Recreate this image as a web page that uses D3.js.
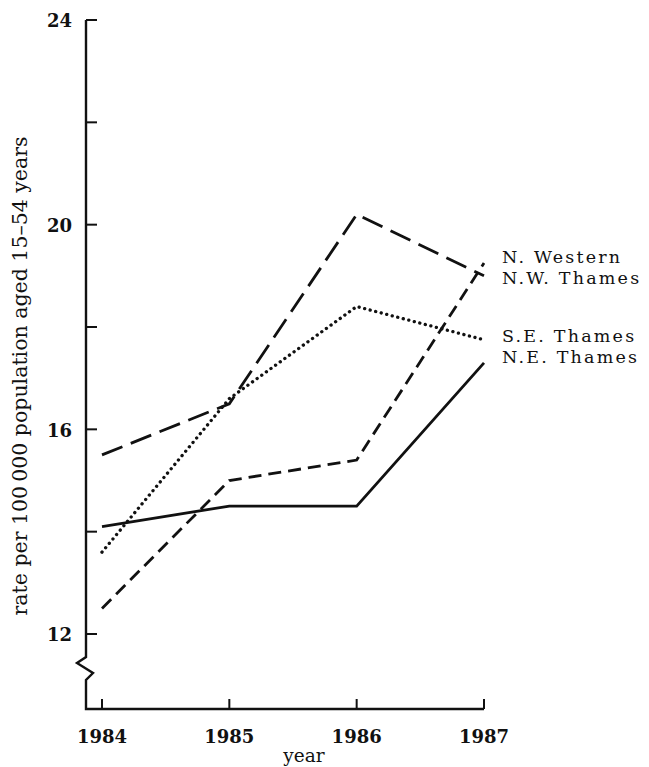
<!DOCTYPE html>
<html>
<head>
<meta charset="utf-8">
<script src="https://cdn.jsdelivr.net/npm/d3@7"></script>
<style>
  body { margin: 0; background: #fff; }
  svg text { font-family: "DejaVu Serif", "Liberation Serif", serif; fill: #111; }
  .tick-label { font-weight: bold; font-size: 18px; }
</style>
</head>
<body>
<svg id="chart" width="649" height="767"></svg>
<script>
const years = [1984, 1985, 1986, 1987];
const yTicks = [12, 14, 16, 18, 20, 22, 24];
const yLabelTicks = [12, 16, 20, 24];

const nWestern = [15.5, 16.5, 20.2, 19.0];
const nwThames = [12.5, 15.0, 15.4, 19.25];
const seThames = [13.6, 16.6, 18.4, 17.75];
const neThames = [14.1, 14.5, 14.5, 17.3];

const seriesNames = ["N. Western", "N.W. Thames", "S.E. Thames", "N.E. Thames"];
const seriesValues = [nWestern, nwThames, seThames, neThames];

const svg = d3.select("#chart");

const axisX = 86, axisBottom = 709;

const x = d3.scaleLinear().domain([1984, 1987]).range([102, 484]);
const y = d3.scaleLinear().domain([12, 24]).range([634, 20]);

const ink = "#111";

// styles for each series
const dashes = ["22,9", "13,7", "0.1,5.6", null];

// y axis with break
const g = svg.append("g");
g.append("path")
  .attr("d", `M${axisX},${y(24)} V657 L77,663 L93,673 L${axisX},680 V${axisBottom} H${x(1987)}`)
  .attr("fill", "none")
  .attr("stroke", ink)
  .attr("stroke-width", 2.4);

g.selectAll(".ytick").data(yTicks).enter().append("line")
  .attr("x1", axisX).attr("x2", axisX + 11)
  .attr("y1", d => y(d)).attr("y2", d => y(d))
  .attr("stroke", ink).attr("stroke-width", 2);

g.selectAll(".ylab").data(yLabelTicks).enter().append("text")
  .attr("class", "tick-label")
  .attr("x", 72).attr("y", d => y(d))
  .attr("dy", "0.4em")
  .attr("text-anchor", "end")
  .text(d => d);

g.selectAll(".xtick").data(years).enter().append("line")
  .attr("x1", d => x(d)).attr("x2", d => x(d))
  .attr("y1", axisBottom).attr("y2", axisBottom - 10)
  .attr("stroke", ink).attr("stroke-width", 2);

g.selectAll(".xlab").data(years).enter().append("text")
  .attr("class", "tick-label")
  .attr("x", d => x(d)).attr("y", 743)
  .attr("text-anchor", "middle")
  .text(d => d);

svg.append("text")
  .attr("x", 304).attr("y", 762)
  .attr("text-anchor", "middle")
  .style("font-size", "18.5px")
  .text("year");

svg.append("text")
  .attr("transform", `translate(27, 376) rotate(-90)`)
  .attr("text-anchor", "middle")
  .style("font-size", "20.5px")
  .text("rate per 100\u2009000 population aged 15\u201354 years");

// lines
const line = d3.line().x((d, i) => x(years[i])).y(d => y(d));

svg.selectAll(".series").data(seriesValues).enter().append("path")
  .attr("d", d => line(d))
  .attr("fill", "none")
  .attr("stroke", ink)
  .attr("stroke-width", (d, i) => i === 2 ? 3.3 : 2.8)
  .attr("stroke-linecap", (d, i) => i === 2 ? "round" : "butt")
  .attr("stroke-dasharray", (d, i) => dashes[i]);

// series labels
const labelY = [263, 284, 342, 363];
svg.selectAll(".slab").data(seriesNames).enter().append("text")
  .attr("x", 502).attr("y", (d, i) => labelY[i])
  .style("font-size", "17.5px")
  .style("letter-spacing", "2.2px")
  .text(d => d);
</script>
</body>
</html>
